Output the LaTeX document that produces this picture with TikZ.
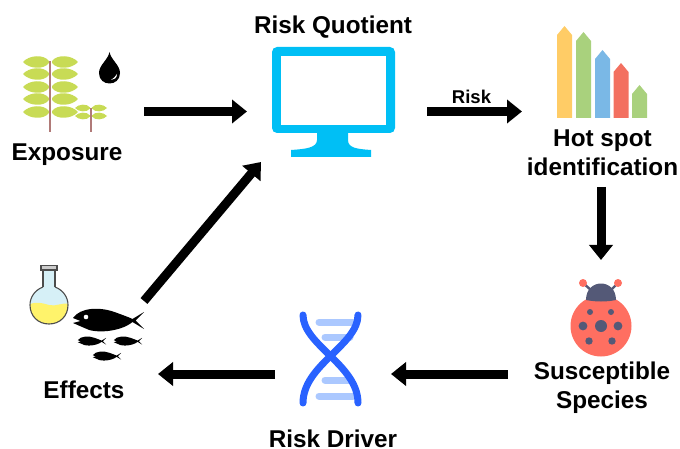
\documentclass[tikz,border=0pt]{standalone}
\usepackage{fontspec}
\usepackage{tikz}
\usepackage{xcolor}
\usetikzlibrary{arrows.meta}
\setmainfont{Liberation Sans}

\definecolor{leafgreen}{HTML}{C8DB55}
\definecolor{stemred}{HTML}{B07A78}
\definecolor{screenblue}{HTML}{00BFF5}
\definecolor{dnablue}{HTML}{2962FF}
\definecolor{dnalight}{HTML}{ABC8FF}
\definecolor{bugred}{HTML}{FF6F61}
\definecolor{bugdark}{HTML}{545977}
\definecolor{glassblue}{HTML}{D6F0F7}
\definecolor{liquid}{HTML}{FFF36B}

\tikzset{
    bigarrow/.style={line width=9pt, -{Triangle[length=15pt, width=23pt]}},
    title/.style={font=\fontsize{24.3}{29}\selectfont\bfseries, align=center, inner sep=0pt},
    pics/leaf/.style={code={
        \fill[leafgreen] (-13,0) .. controls (-7,-7) and (8,-8) .. (13,-1)
            -- (13,1) .. controls (8,8) and (-7,7) .. (-13,0) -- cycle;
    }},
    pics/fish/.style={code={
        \fill[black] (-28,1) -- (-35.5,-2) .. controls (-28,-13) and (-8,-13) .. (6,-8)
            .. controls (14,-5) and (20,-3) .. (24,-1) -- (35.5,-8) -- (27,0.5) -- (35.5,9) -- (24,2)
            .. controls (12,12) and (-14,14) .. (-24,8) -- (-35.5,3) -- cycle;
    }}
}

\begin{document}
\begin{tikzpicture}[x=1pt, y=-1pt]
    \useasboundingbox (0,0) rectangle (680,449);

    % labels
    \node[title] (exposure) at (67,155) {Exposure};
    \node[title] (quotient) at (333,27.5) {Risk Quotient};
    \node[title] (hotspot) at (602.5,153) {Hot spot\\identification};
    \node[title] (species) at (602,388) {Susceptible\\Species};
    \node[title] (driver) at (333,438.5) {Risk Driver};
    \node[title] (effects) at (84,390) {Effects};

    % plants
    \foreach \y in {62,74,87,99,112} {
        \pic at (36,\y) {leaf};
        \pic[xscale=-1] at (65,\y) {leaf};
    }
    \foreach \y in {108,116} {
        \pic[scale=0.58] at (82.5,\y) {leaf};
        \pic[xscale=-0.58, yscale=0.58] at (99.5,\y) {leaf};
    }
    \draw[stemred, line width=1.3pt] (50,61) -- (50,132);
    \draw[stemred, line width=1.3pt] (91,108) -- (91,132);

    % drop
    \fill[black] (109.5,52) .. controls (111,60) and (120,65) .. (120,73)
        .. controls (120,87) and (99,87) .. (99,73)
        .. controls (99,65) and (108,60) .. (109.5,52) -- cycle;
    \fill[white] (117,74) .. controls (117,78) and (114,80) .. (111,80)
        .. controls (114,78) and (115,77) .. (117,74) -- cycle;

    % monitor
    \fill[screenblue, rounded corners=5pt] (272,47) rectangle (395,133);
    \fill[white] (281,56) rectangle (386,125);
    \fill[screenblue] (317,130) -- (317,140) .. controls (317,148) and (305,149) .. (291,150)
        -- (291,157) -- (371,157) -- (371,150)
        .. controls (357,149) and (348,148) .. (348,140) -- (348,130) -- cycle;

    % bars
    \foreach \xa/\ytop/\barcolor in {557/26/FFCC66, 576/32/A9D17D, 595/50/7AB8E6, 613.5/63/F37060, 632/85/A9D17D} {
        \definecolor{barfill}{HTML}{\barcolor}
        \fill[barfill] (\xa,118) -- (\xa,\ytop+9) -- (\xa+7.5,\ytop) -- (\xa+15,\ytop+9) -- (\xa+15,118) -- cycle;
    }

    % ladybug
    \fill[bugred] (601,326) circle (30.5);
    \fill[bugdark] (586,300) .. controls (586,278) and (616,278) .. (616,300)
        .. controls (606,302) and (596,302) .. (586,300) -- cycle;
    \draw[bugdark, line width=2.4pt] (583,283) -- (592,291);
    \draw[bugdark, line width=2.4pt] (618,283) -- (610,291);
    \fill[bugred] (583,283) circle (4);
    \fill[bugred] (618,283) circle (4);
    \foreach \xa/\ya/\rad in {601/326/6, 583/326/4.4, 618/326/4.4, 590/312/3, 611/312/3, 589/341/3.7, 612/341/3.7} {
        \fill[bugdark] (\xa,\ya) circle (\rad);
    }

    % dna
    \foreach \ya/\xa/\xb in {322/319/353, 337/325/350, 380/325/350, 396/319/353} {
        \draw[dnalight, line width=7pt, line cap=round] (\xa,\ya) -- (\xb,\ya);
    }
    \draw[dnablue, line width=7pt, line cap=round] (303,315) .. controls (303,345) and (358,365) .. (358,403);
    \draw[dnablue, line width=7pt, line cap=round] (358,315) .. controls (358,345) and (303,365) .. (303,403);

    % flask
    \fill[glassblue] (43,270) rectangle (55,290);
    \fill[glassblue] (49,305) circle (19);
    \begin{scope}
        \clip (49,305) circle (19);
        \fill[liquid] (28,305) .. controls (36,301) and (42,303) .. (49,305)
            .. controls (56,307) and (62,302) .. (70,304) -- (70,326) -- (28,326) -- cycle;
    \end{scope}
    \draw[black!70, line width=1.1pt] (43,270) -- (43,287) (55,270) -- (55,287);
    \draw[black!70, line width=1.1pt] (43,287) .. controls (35,290) and (30,297) .. (30,305)
        .. controls (30,316) and (38,324) .. (49,324)
        .. controls (60,324) and (68,316) .. (68,305)
        .. controls (68,297) and (63,290) .. (55,287);
    \draw[black!70, fill=black!20, line width=1.1pt] (41,265.5) rectangle (57,270);

    % fishes
    \pic at (108.5,320) {fish};
    \fill[white] (86,317) circle (2.3);
    \pic[scale=0.4] at (92,341) {fish};
    \pic[scale=0.4] at (128,341) {fish};
    \pic[scale=0.4] at (107,356) {fish};

    % arrows
    \coordinate (plantsend) at (144,111.5);
    \coordinate (screenin) at (247,111.5);
    \coordinate (screenout) at (427,111.5);
    \coordinate (barsin) at (522,111.5);
    \coordinate (barsout) at (601,187);
    \coordinate (bugin) at (601,260);
    \coordinate (bugout) at (508,374);
    \coordinate (dnain) at (391,374);
    \coordinate (dnaout) at (275,374);
    \coordinate (fishin) at (158,374);
    \coordinate (fishout) at (144,301);
    \coordinate (screenlow) at (261,162);

    \draw[bigarrow] (plantsend) -- (screenin);
    \draw[bigarrow] (screenout) -- (barsin);
    \node[inner sep=0pt, font=\fontsize{18.5}{22}\selectfont\bfseries] (risk) at (471.5,96.5) {Risk};
    \draw[bigarrow] (barsout) -- (bugin);
    \draw[bigarrow] (bugout) -- (dnain);
    \draw[bigarrow] (dnaout) -- (fishin);
    \draw[bigarrow] (fishout) -- (screenlow);
\end{tikzpicture}
\end{document}
